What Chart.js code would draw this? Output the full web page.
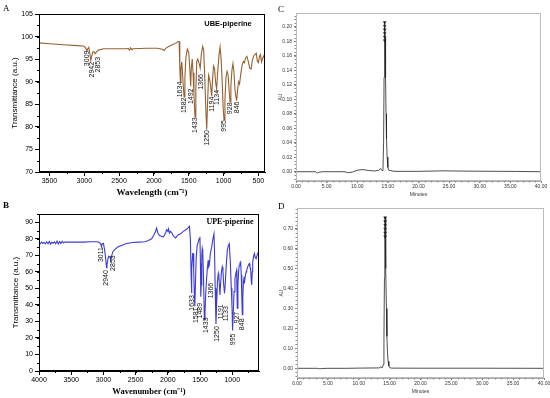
<!DOCTYPE html>
<html>
<head>
<meta charset="utf-8">
<title>Piperine FTIR / HPLC</title>
<script src="https://cdn.jsdelivr.net/npm/chart.js"></script>
<style>
body{margin:0;background:#fff;width:550px;height:398px;position:relative;overflow:hidden;font-family:"Liberation Sans",Arial,sans-serif}
.panel{position:absolute}
#pA{left:0;top:0;width:275px;height:198px}
#pB{left:0;top:198px;width:275px;height:200px}
#pC{left:275px;top:0;width:275px;height:198px}
#pD{left:275px;top:198px;width:275px;height:200px}
</style>
</head>
<body>
<div class="panel" id="pA"><canvas id="cA"></canvas></div>
<div class="panel" id="pB"><canvas id="cB"></canvas></div>
<div class="panel" id="pC"><canvas id="cC"></canvas></div>
<div class="panel" id="pD"><canvas id="cD"></canvas></div>
<script>
// ================= DATA =================
// A : UBE-piperine FTIR
const A_wn=[3650,3500,3300,3100,3012,2985,2962,2950,2935,2920,2906,2895,2877,2860,2844,2825,2797,2725,2600,2400,2370,2350,2335,2315,2300,2100,1950,1880,1850,1830,1790,1750,1720,
 1680,1650,1638,1628,1620,1612,1600,1590,1578,1567,1555,1540,1520,1500,1485,1472,1463,1450,1438,1425,1410,1398,1385,1370,1350,1335,1320,1300,1285,1270,1255,1242,1230,1215,1200,1185,1170,1160,1145,1130,1115,1100,1085,1065,1050,1035,1020,1005,993,980,965,950,935,920,907,895,880,865,850,835,820,812,800,785,770,755,735,715,700,685,665,645,625,605,590,570,550,530,515,500,485,470,455,440,420,405];
const A_T=[98.6,98.4,98.2,98.0,97.9,97.6,96.8,97.3,97.6,96.2,94.7,95.5,96.6,96.6,96.2,96.6,97.0,97.3,97.3,97.3,97.4,97.0,97.5,97.1,97.3,97.4,97.4,97.2,96.9,97.4,97.8,98.1,98.3,
 98.6,98.9,98.9,93.0,90.0,93.0,94.4,92.0,89.0,86.6,91.0,95.5,97.2,96.5,93.0,89.0,93.0,95.0,92.0,87.0,82.2,88.0,94.5,95.0,94.0,93.0,96.0,97.8,97.0,91.0,84.0,79.4,85.0,91.4,90.5,89.0,86.8,90.0,93.5,93.0,90.0,88.4,92.0,96.0,97.7,95.0,90.0,84.0,81.6,86.0,91.0,92.3,91.5,88.0,85.5,89.0,92.5,94.0,92.0,88.0,86.5,85.8,88.0,90.0,89.5,91.5,93.5,94.5,94.2,95.2,95.6,94.5,93.0,92.8,94.5,95.6,96.0,96.3,94.5,94.2,95.6,96.0,94.4,95.2,95.8,94.8];
const A_xTicks=[3500,3000,2500,2000,1500,1000,500];
const A_yTicks=[70,75,80,85,90,95,100,105];
const A_peakTxt=["3009","2942","2853","1634","1582","1492","1433","1366","1250","1194","1134","995","928","846"];
const A_peakWn=[2963,2891,2805,1623,1567,1470,1409,1327,1241,1169,1097,993,907,810];
const A_peakTop=[96.9,94.4,95.5,90.0,86.5,88.5,82.1,91.7,79.3,86.7,88.2,81.5,85.4,85.6];

// B : UPE-piperine FTIR
const B_wn=[4000,3980,3960,3940,3920,3900,3880,3860,3840,3820,3800,3780,3760,3740,3720,3700,3680,3660,3640,3620,3600,3500,3400,3300,3200,3100,3060,3040,3030,3020,3000,2980,2965,2952,2945,2930,2918,2900,2885,2870,2850,2823,2780,2720,2650,2550,2450,2357,2300,2253,2220,2190,2175,2165,2150,2130,2100,2070,2050,2030,2020,2000,1990,1975,1960,1940,1920,1900,1880,1860,1840,1800,1760,1720,1690,
 1665,1650,1640,1633,1626,1615,1606,1598,1590,1581,1572,1560,1545,1528,1515,1502,1494,1489,1482,1473,1466,1458,1447,1433,1424,1412,1398,1385,1373,1366,1356,1340,1320,1300,1284,1275,1265,1253,1243,1230,1217,1208,1200,1191,1182,1168,1155,1145,1133,1120,1110,1095,1077,1060,1046,1030,1015,1005,995,985,972,958,945,932,927,922,912,900,891,880,870,860,852,844,836,826,818,812,800,785,776,760,745,736,725,715,705,698,690,683,670,657,645,630,615,600,590];
const B_T=[77.5,77.0,78.0,77.2,77.8,76.9,78.2,77.0,78.4,76.8,77.9,77.3,78.1,77.0,78.6,76.8,78.3,77.2,78.5,77.4,78.0,78.0,78.1,78.0,78.2,78.2,77.8,76.5,75.2,77.0,77.2,73.0,68.0,62.5,64.0,68.0,69.5,69.0,67.0,70.0,72.5,73.5,75.0,76.0,77.0,77.8,78.0,78.2,79.0,80.0,82.0,84.5,86.5,85.0,83.0,82.0,81.5,81.0,82.5,84.0,85.5,84.5,86.0,83.5,84.5,83.8,82.0,81.2,80.5,81.5,82.5,83.0,84.5,85.5,86.5,
 87.6,80.0,60.0,47.0,62.0,71.0,71.0,60.0,48.0,39.0,52.0,68.0,76.0,78.0,80.0,81.3,65.0,45.0,52.0,70.0,74.0,72.0,58.0,31.0,34.0,47.0,56.0,63.0,67.0,63.0,64.0,71.0,75.0,80.0,83.0,72.0,50.0,28.5,40.0,54.0,59.0,57.0,52.0,46.0,52.0,60.0,63.0,61.0,52.0,47.0,52.0,63.0,73.0,76.0,77.0,66.0,50.0,40.0,24.5,35.0,48.0,56.0,59.0,61.0,49.0,38.0,52.0,61.0,64.0,65.5,66.0,58.0,45.0,34.0,45.0,55.0,57.0,53.0,57.0,60.0,61.0,63.0,64.5,65.0,63.0,62.0,55.0,52.0,60.0,66.0,69.0,71.0,69.0,68.0,70.0,71.5,72.0];
const B_xTicks=[4000,3500,3000,2500,2000,1500,1000];
const B_yTicks=[0,10,20,30,40,50,60,70,80,90];
const B_peakTxt=["3011","2940","2853","1633","1581","1489","1433","1366","1250","1191","1133","995","927","848"];
const B_peakWn=[3030,2952,2850,1631,1569,1502,1413,1336,1233,1180,1098,984,922,844];
const B_peakTop=[75.0,61.0,70.0,45.9,38.4,41.2,32.4,53.4,27.1,40.4,39.2,22.7,35.8,31.8];

// C : UBE-piperine HPLC
const C_min=[0,3.2,3.45,3.7,4.2,6,8.0,8.4,9.2,10.0,10.8,11.8,12.8,13.5,13.8,14.05,14.2,14.3,14.38,14.44,14.49,14.55,14.62,14.7,14.78,14.88,15.0,15.15,16,20,24,28,32,36,40];
const C_au=[0,0,-0.002,-0.001,0,0,0,-0.0014,-0.0005,0.002,0.003,0.0018,0.001,0.002,0.0045,0.0015,0.005,0.04,0.13,0.19,0.205,0.185,0.13,0.08,0.045,0.02,0.006,0.002,0.0005,0.0005,0.0012,0.0008,0.0006,0.0004,0];
const C_markMin=[14.48,14.48,14.48,14.48,14.48,14.48];
const C_markAu=[0.181,0.186,0.191,0.196,0.201,0.206];
const C_xTicks=[0,5,10,15,20,25,30,35,40];
const C_yTicks=[0,0.02,0.04,0.06,0.08,0.10,0.12,0.14,0.16,0.18,0.20];

// D : UPE-piperine HPLC
const D_min=[0,3.4,3.7,4.0,5,8,10,13.3,13.6,13.8,14.0,14.08,14.16,14.22,14.27,14.33,14.4,14.48,14.56,14.65,14.75,14.88,15.0,15.3,20,30,40];
const D_au=[0,0,-0.003,-0.001,0,0,0.001,0.002,0.008,0.002,0.02,0.15,0.45,0.68,0.758,0.7,0.5,0.3,0.16,0.08,0.035,0.012,0.004,0.001,0.0005,0.0005,0];
const D_markMin=[14.27,14.27,14.27,14.27,14.27,14.27];
const D_markAu=[0.66,0.679,0.698,0.717,0.736,0.755];
const D_xTicks=[0,5,10,15,20,25,30,35,40];
const D_yTicks=[0,0.1,0.2,0.3,0.4,0.5,0.6,0.7];

// ================= EXTRAS PLUGIN =================
function extras(o){
  return {
    id:'extras',
    afterDraw(chart){
      const c=chart.ctx, a=chart.chartArea, x=chart.scales.x, y=chart.scales.y;
      c.save();
      c.strokeStyle=o.frame; c.lineWidth=1;
      c.strokeRect(Math.round(a.left)+0.5,Math.round(a.top)+0.5,Math.round(a.right-a.left)-1,Math.round(a.bottom-a.top)-1);
      // minor ticks
      c.strokeStyle=o.tickColor; c.beginPath();
      const lo=Math.min(x.min,x.max), hi=Math.max(x.min,x.max);
      for(let v=Math.ceil(lo/o.xMinor)*o.xMinor; v<=hi+1e-9; v+=o.xMinor){
        const p=Math.round(x.getPixelForValue(v))+0.5;
        c.moveTo(p,a.bottom); c.lineTo(p,a.bottom+o.minorLen);
      }
      for(let v=Math.ceil(y.min/o.yMinor)*o.yMinor; v<=y.max+1e-9; v+=o.yMinor){
        const p=Math.round(y.getPixelForValue(v))+0.5;
        c.moveTo(a.left,p); c.lineTo(a.left-o.minorLen,p);
      }
      c.stroke();
      // peak labels
      if(o.peakTxt){
        c.fillStyle='#111'; c.font=o.peakFont; c.textAlign='right'; c.textBaseline='middle';
        o.peakTxt.forEach((t,i)=>{
          c.save();
          c.translate(x.getPixelForValue(o.peakX[i]), y.getPixelForValue(o.peakY[i]));
          c.rotate(-Math.PI/2);
          c.fillText(t,0,0);
          c.restore();
        });
      }
      // panel letter & sample name
      c.fillStyle='#000'; c.textAlign='left'; c.textBaseline='middle';
      c.font=o.letterFont; c.fillText(o.letter,o.letterX,o.letterY);
      if(o.name){ c.textAlign='center'; c.font=o.nameFont; c.fillText(o.name,o.nameX,o.nameY); }
      c.restore();
    }
  };
}

function scale(o){
  return {
    type:'linear', reverse:!!o.reverse, min:o.min, max:o.max,
    afterBuildTicks:s=>{ s.ticks=o.ticks.map(v=>({value:v})); },
    afterFit:s=>{
      if(o.h!==undefined) s.height=o.h;
      if(o.w!==undefined) s.width=o.w;
      s.paddingLeft=0; s.paddingRight=0; s.paddingTop=0; s.paddingBottom=0;
    },
    grid:{drawOnChartArea:false, drawTicks:true, tickLength:o.tickLen, color:o.tickColor, lineWidth:1},
    border:{display:true, color:o.axisColor, width:1},
    ticks:{autoSkip:false, maxRotation:0, font:{size:o.tickSize, family:'"Liberation Sans", Arial'}, color:o.labelColor, padding:o.tickPad,
      callback:v=>o.fmt?o.fmt(v):v},
    title:{display:true, text:o.title, color:o.labelColor, font:o.titleFont, padding:o.titlePad}
  };
}

function makeChart(id, o){
  const datasets=[{type:'line', data:o.xs.map((v,i)=>({x:v,y:o.ys[i]})), borderColor:o.color, borderWidth:o.lw, pointRadius:0, tension:0, fill:false}];
  if(o.markX) datasets.push({type:'scatter', data:o.markX.map((v,i)=>({x:v,y:o.markY[i]})), pointStyle:'triangle', rotation:180, radius:1.6, backgroundColor:'#222', borderColor:'#222', borderWidth:0.5});
  return new Chart(document.getElementById(id),{
    type:'line',
    data:{datasets},
    options:{
      responsive:true, maintainAspectRatio:false, animation:false,
      layout:{padding:o.pad},
      plugins:{legend:{display:false}, tooltip:{enabled:false}},
      scales:{x:scale(o.x), y:scale(o.y)}
    },
    plugins:[extras(o.extra)]
  });
}

Chart.defaults.font.family='"Liberation Sans", Arial, sans-serif';

// ================= PANEL A =================
makeChart('cA',{
  xs:A_wn, ys:A_T, color:'#966131', lw:1.1, pad:{top:14,right:10,left:0,bottom:0},
  x:{reverse:true,min:405,max:3650,ticks:A_xTicks,h:26,tickLen:4,tickColor:'#000',axisColor:'#000',labelColor:'#000',tickSize:7,tickPad:1,
     title:'Wavelength (cm\u207B\u00B9)',titleFont:{family:'"Liberation Serif", "Times New Roman", serif',size:9,weight:'bold'},titlePad:{top:0,bottom:0}},
  y:{min:70,max:105,ticks:A_yTicks,w:39,tickLen:4,tickColor:'#000',axisColor:'#000',labelColor:'#000',tickSize:7,tickPad:2,
     title:'Transmittance (a.u.)',titleFont:{size:8},titlePad:{top:10,bottom:0}},
  extra:{frame:'#000',tickColor:'#000',xMinor:250,yMinor:2.5,minorLen:2,
     peakTxt:A_peakTxt,peakX:A_peakWn,peakY:A_peakTop,peakFont:'7px "Liberation Sans", Arial',
     letter:'A',letterX:3,letterY:9,letterFont:'9px "Liberation Serif", serif',
     name:'UBE-piperine',nameX:228,nameY:24,nameFont:'bold 7.5px "Liberation Sans", Arial'}
});

// ================= PANEL B =================
makeChart('cB',{
  xs:B_wn, ys:B_T, color:'#3b3bd6', lw:1.1, pad:{top:16,right:16,left:0,bottom:0},
  x:{reverse:true,min:585,max:4000,ticks:B_xTicks,h:27,tickLen:4,tickColor:'#000',axisColor:'#000',labelColor:'#000',tickSize:7,tickPad:1,
     title:'Wavenumber (cm\u207B\u00B9)',titleFont:{family:'"Liberation Serif", "Times New Roman", serif',size:8.5,weight:'bold'},titlePad:{top:0,bottom:1}},
  y:{min:0,max:95,ticks:B_yTicks,w:39,tickLen:4,tickColor:'#000',axisColor:'#000',labelColor:'#000',tickSize:7,tickPad:2,
     title:'Transmittance (a.u.)',titleFont:{size:8},titlePad:{top:11,bottom:0}},
  extra:{frame:'#000',tickColor:'#000',xMinor:250,yMinor:5,minorLen:2,
     peakTxt:B_peakTxt,peakX:B_peakWn,peakY:B_peakTop,peakFont:'7px "Liberation Sans", Arial',
     letter:'B',letterX:3,letterY:8,letterFont:'bold 9px "Liberation Serif", serif',
     name:'UPE-piperine',nameX:230,nameY:24,nameFont:'bold 8px "Liberation Serif", serif'}
});

// ================= PANEL C =================
makeChart('cC',{
  xs:C_min, ys:C_au, color:'#222', lw:0.8, markX:C_markMin, markY:C_markAu, pad:{top:13,right:9,left:0,bottom:0},
  x:{min:0,max:40,ticks:C_xTicks,h:17,tickLen:2,tickColor:'#777',axisColor:'#aaa',labelColor:'#333',tickSize:5,tickPad:1,fmt:v=>v.toFixed(2),
     title:'Minutes',titleFont:{size:5},titlePad:{top:0,bottom:0}},
  y:{min:-0.0128,max:0.2189,ticks:C_yTicks,w:21,tickLen:2,tickColor:'#777',axisColor:'#aaa',labelColor:'#333',tickSize:5,tickPad:2,fmt:v=>v.toFixed(2),
     title:'AU',titleFont:{size:5},titlePad:{top:3,bottom:0}},
  extra:{frame:'#bbb',tickColor:'#888',xMinor:1,yMinor:0.005,minorLen:1.5,
     letter:'C',letterX:3,letterY:10,letterFont:'9px "Liberation Serif", serif'}
});

// ================= PANEL D =================
makeChart('cD',{
  xs:D_min, ys:D_au, color:'#222', lw:0.8, markX:D_markMin, markY:D_markAu, pad:{top:10,right:6,left:0,bottom:0},
  x:{min:0,max:40,ticks:D_xTicks,h:20,tickLen:2,tickColor:'#777',axisColor:'#aaa',labelColor:'#333',tickSize:5,tickPad:1,fmt:v=>v.toFixed(2),
     title:'Minutes',titleFont:{size:5},titlePad:{top:0,bottom:3}},
  y:{min:-0.0485,max:0.803,ticks:D_yTicks,w:22,tickLen:2,tickColor:'#777',axisColor:'#aaa',labelColor:'#333',tickSize:5,tickPad:2,fmt:v=>v.toFixed(2),
     title:'AU',titleFont:{size:5},titlePad:{top:4,bottom:0}},
  extra:{frame:'#bbb',tickColor:'#888',xMinor:1,yMinor:0.02,minorLen:1.5,
     letter:'D',letterX:3,letterY:9,letterFont:'9px "Liberation Serif", serif'}
});
</script>
</body>
</html>
